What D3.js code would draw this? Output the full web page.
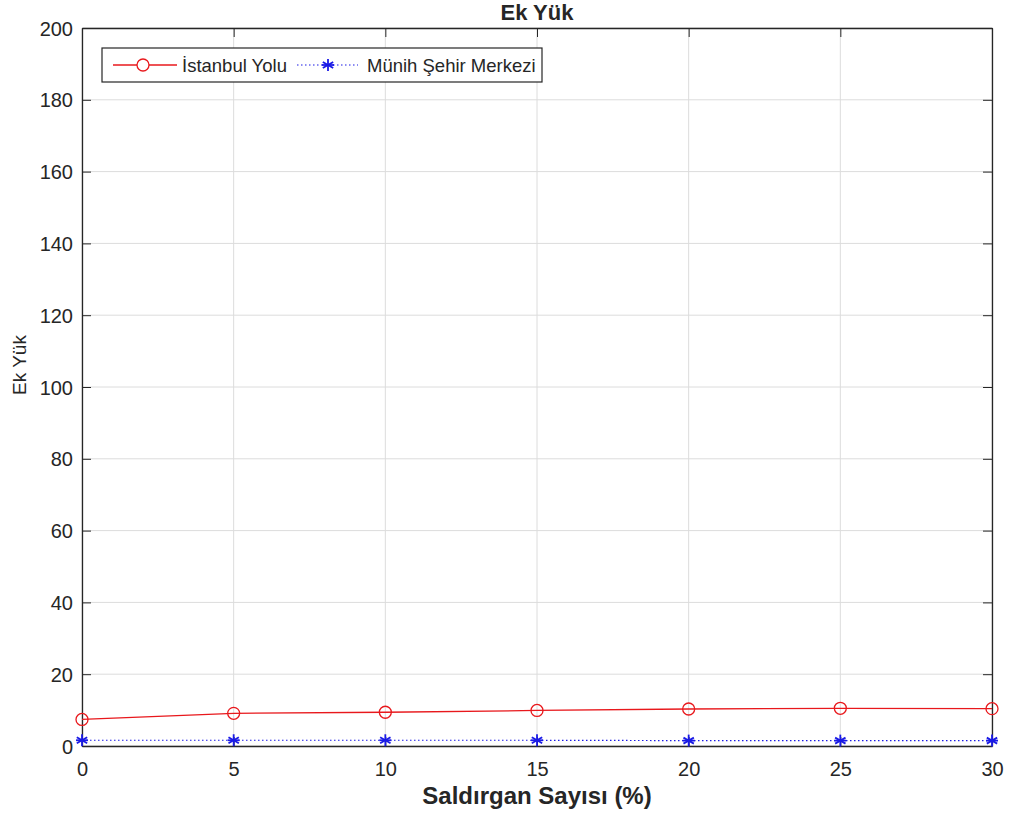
<!DOCTYPE html>
<html>
<head>
<meta charset="utf-8">
<script src="https://cdn.jsdelivr.net/npm/d3@7"></script>
<style>
  body { margin: 0; background: #fff; }
  text { font-family: "Liberation Sans", Arial, sans-serif; fill: #262626; }
</style>
</head>
<body>
<div id="chart"></div>
<script>
// data
var saldirgan = [0, 5, 10, 15, 20, 25, 30];
var istanbulYolu = [7.4, 9.1, 9.4, 9.9, 10.3, 10.5, 10.4];
var munihSehir = [1.6, 1.6, 1.6, 1.6, 1.5, 1.5, 1.5];
var xTicks = [0, 5, 10, 15, 20, 25, 30];
var yTicks = [0, 20, 40, 60, 80, 100, 120, 140, 160, 180, 200];

var W = 1011, H = 823;
var margin = {top: 28, right: 19, bottom: 77, left: 82},
    width = W - margin.left - margin.right,
    height = H - margin.top - margin.bottom;

var svg = d3.select("#chart").append("svg")
    .attr("width", W)
    .attr("height", H);

var g = svg.append("g")
    .attr("transform", "translate(" + margin.left + "," + margin.top + ")");

var x = d3.scaleLinear().domain([0, 30]).range([0, width]);
var y = d3.scaleLinear().domain([0, 200]).range([height, 0]);

// grid
g.selectAll(".xgrid").data(xTicks).enter().append("line")
    .attr("x1", function(d){ return x(d); })
    .attr("x2", function(d){ return x(d); })
    .attr("y1", 0).attr("y2", height)
    .attr("stroke", "#dcdcdc").attr("stroke-width", 1);
g.selectAll(".ygrid").data(yTicks).enter().append("line")
    .attr("y1", function(d){ return y(d); })
    .attr("y2", function(d){ return y(d); })
    .attr("x1", 0).attr("x2", width)
    .attr("stroke", "#dcdcdc").attr("stroke-width", 1);

// axes, ticks pointing inward on all four sides
var tickLen = 9;
var xAxis = g.append("g").attr("transform", "translate(0," + height + ")")
    .call(d3.axisBottom(x).tickValues(xTicks).tickSizeInner(-tickLen).tickSizeOuter(0).tickPadding(16));
var yAxis = g.append("g")
    .call(d3.axisLeft(y).tickValues(yTicks).tickSizeInner(-tickLen).tickSizeOuter(0).tickPadding(9));
var xTop = g.append("g")
    .call(d3.axisTop(x).tickValues(xTicks).tickSizeInner(-tickLen).tickSizeOuter(0).tickFormat(""));
var yRight = g.append("g").attr("transform", "translate(" + width + ",0)")
    .call(d3.axisRight(y).tickValues(yTicks).tickSizeInner(-tickLen).tickSizeOuter(0).tickFormat(""));

[xAxis, yAxis, xTop, yRight].forEach(function(a){
    a.selectAll("path").attr("stroke", "#262626").attr("stroke-width", 1.3);
    a.selectAll("line").attr("stroke", "#262626").attr("stroke-width", 1);
    a.selectAll("text").attr("font-size", 20).attr("fill", "#262626")
        .style("font-family", "'Liberation Sans', Arial, sans-serif");
});
yAxis.selectAll("text").attr("dy", "0.35em");

// lines
var line = d3.line()
    .x(function(d, i){ return x(saldirgan[i]); })
    .y(function(d){ return y(d); });

g.append("path").datum(istanbulYolu)
    .attr("d", line).attr("fill", "none")
    .attr("stroke", "#e8181c").attr("stroke-width", 1.3);

g.append("path").datum(munihSehir)
    .attr("d", line).attr("fill", "none")
    .attr("stroke", "#1a1ae6").attr("stroke-width", 1.2)
    .attr("stroke-dasharray", "1.5,2.5");

g.selectAll(".circ").data(istanbulYolu).enter().append("circle")
    .attr("cx", function(d, i){ return x(saldirgan[i]); })
    .attr("cy", function(d){ return y(d); })
    .attr("r", 6)
    .attr("fill", "none").attr("stroke", "#e8181c").attr("stroke-width", 1.3);

function asterisk(sel, cx, cy) {
    var r = 6;
    [0, 60, 120].forEach(function(a){
        var rad = (a + 90) * Math.PI / 180;
        sel.append("line")
            .attr("x1", cx - r * Math.cos(rad)).attr("y1", cy - r * Math.sin(rad))
            .attr("x2", cx + r * Math.cos(rad)).attr("y2", cy + r * Math.sin(rad))
            .attr("stroke", "#1a1ae6").attr("stroke-width", 1.8);
    });
    sel.append("line")
        .attr("x1", cx - r).attr("y1", cy).attr("x2", cx + r).attr("y2", cy)
        .attr("stroke", "#1a1ae6").attr("stroke-width", 1.8);
}
var stars = g.append("g");
munihSehir.forEach(function(d, i){
    asterisk(stars, x(saldirgan[i]), y(d));
});

// title and axis labels
svg.append("text")
    .attr("x", margin.left + width / 2).attr("y", 20)
    .attr("text-anchor", "middle")
    .attr("font-size", 22).attr("font-weight", "bold").attr("fill", "#000")
    .text("Ek Yük");

svg.append("text")
    .attr("x", margin.left + width / 2).attr("y", 804)
    .attr("text-anchor", "middle")
    .attr("font-size", 24).attr("font-weight", "bold").attr("fill", "#262626")
    .text("Saldırgan Sayısı (%)");

svg.append("text")
    .attr("transform", "translate(26,365) rotate(-90)")
    .attr("text-anchor", "middle")
    .attr("font-size", 19).attr("fill", "#262626")
    .text("Ek Yük");

// legend
var leg = svg.append("g").attr("transform", "translate(102,48)");
leg.append("rect")
    .attr("width", 440).attr("height", 34)
    .attr("fill", "#fff").attr("stroke", "#262626").attr("stroke-width", 1.2);
leg.append("line").attr("x1", 11).attr("x2", 75).attr("y1", 17).attr("y2", 17)
    .attr("stroke", "#e8181c").attr("stroke-width", 1.3);
leg.append("circle").attr("cx", 41).attr("cy", 17).attr("r", 6)
    .attr("fill", "#fff").attr("stroke", "#e8181c").attr("stroke-width", 1.3);
leg.append("text").attr("x", 80).attr("y", 23.5).attr("font-size", 18.5)
    .attr("fill", "#000").text("İstanbul Yolu");
leg.append("line").attr("x1", 195).attr("x2", 256).attr("y1", 17).attr("y2", 17)
    .attr("stroke", "#1a1ae6").attr("stroke-width", 1.2).attr("stroke-dasharray", "1.5,2.5");
asterisk(leg, 226, 17);
leg.append("text").attr("x", 265).attr("y", 23.5).attr("font-size", 18.5)
    .attr("fill", "#000").text("Münih Şehir Merkezi");
</script>
</body>
</html>
